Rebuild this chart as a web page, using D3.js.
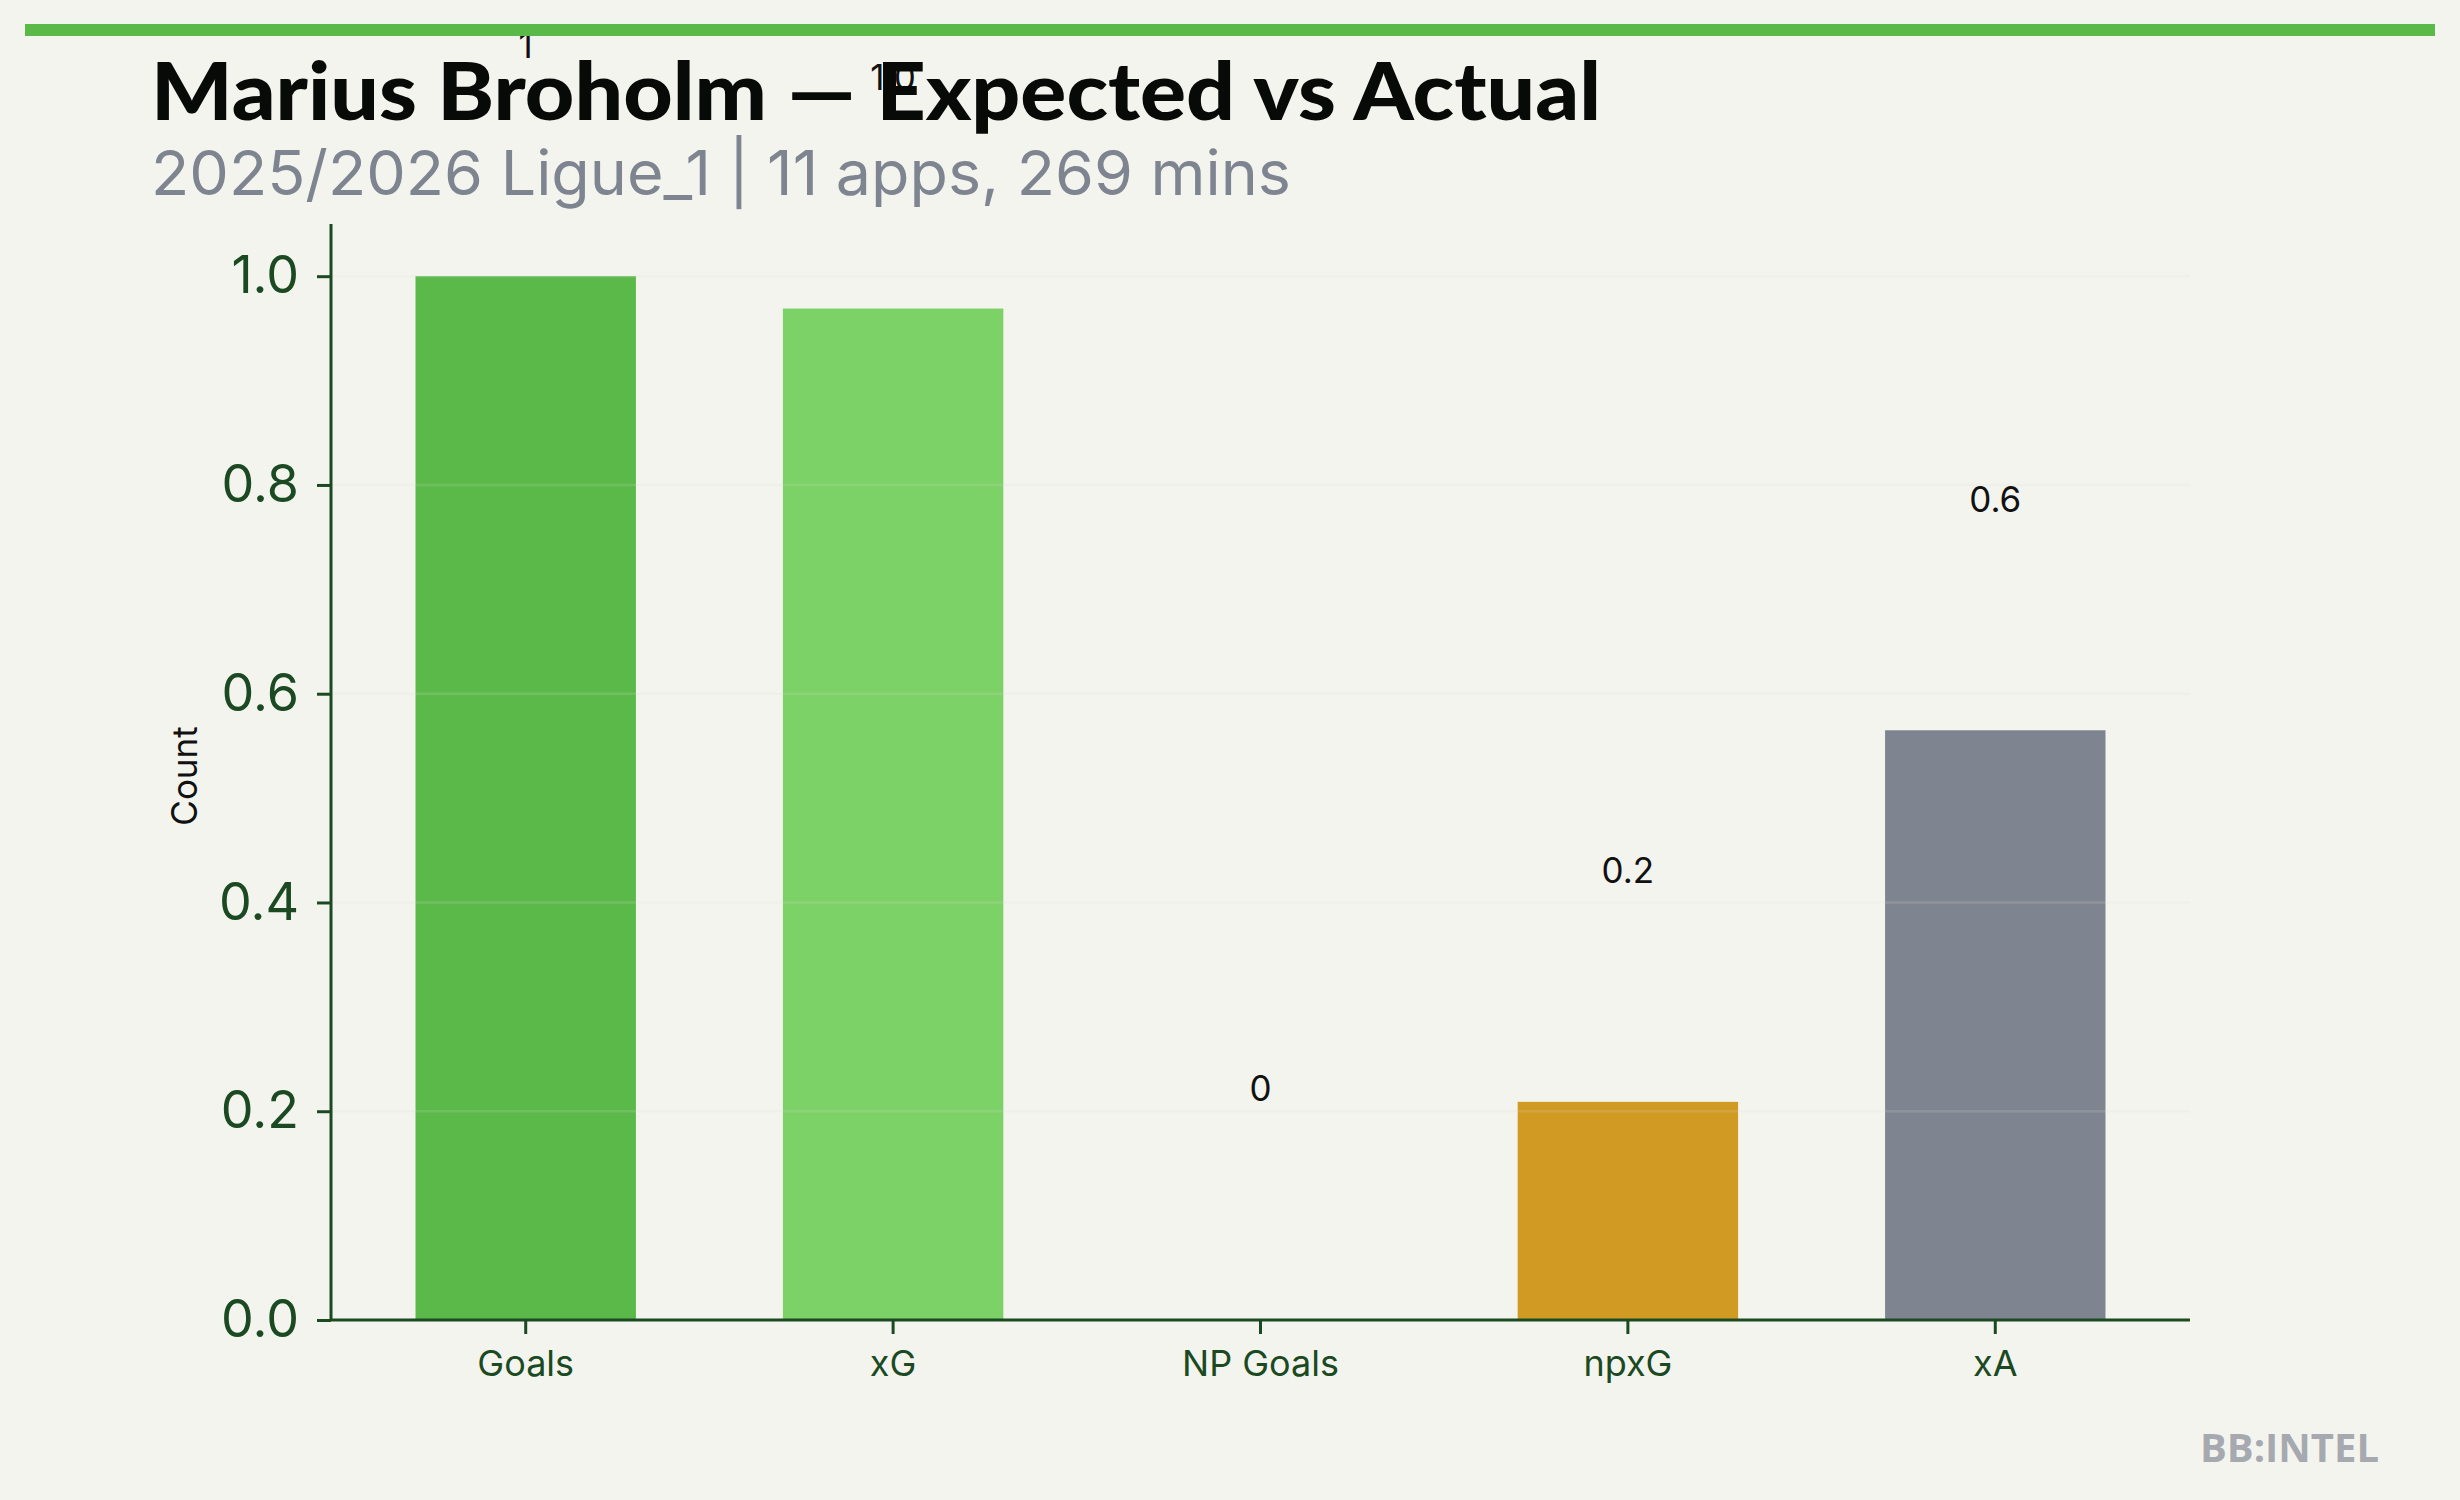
<!DOCTYPE html>
<html>
<head>
<meta charset="utf-8">
<script src="https://cdn.jsdelivr.net/npm/d3@7"></script>
<style>
  html, body { margin: 0; padding: 0; background: #f4f4ef; }
  svg { display: block; }
</style>
</head>
<body>
<script>
const categories = ["Goals", "xG", "NP Goals", "npxG", "xA"];
const values = [1, 0.969, 0, 0.209, 0.565];
const barColors = ["#5bb94a", "#7cd167", "#5bb94a", "#d19a23", "#7f8590"];
const yTicks = [0, 0.2, 0.4, 0.6, 0.8, 1.0];
const titleText = "Marius Broholm \u2014 Expected vs Actual";
const subtitleText = "2025/2026 Ligue_1 | 11 apps, 269 mins";
const yLabel = "Count";
const watermark = "BB:INTEL";

const W = 2460, H = 1500;
const plot = { left: 331, right: 2190, top: 224, bottom: 1320 };
const labelOffset = 0.2215;

const svg = d3.select("body").append("svg").attr("width", W).attr("height", H);
svg.append("rect").attr("width", W).attr("height", H).attr("fill", "#f4f4ef");

const x = d3.scaleBand().domain(categories).range([plot.left, plot.right])
  .paddingInner(0.4).paddingOuter(0.23);
const y = d3.scaleLinear().domain([0, 1.05]).range([plot.bottom, plot.top]);

const fmt = v => Number.isInteger(v) ? String(v) : v.toFixed(1);

// value labels (drawn underneath title)
svg.append("g").selectAll("text").data(categories).join("text")
  .attr("x", d => x(d) + x.bandwidth() / 2)
  .attr("y", (d, i) => y(values[i] + labelOffset))
  .attr("dy", "0.36em")
  .attr("text-anchor", "middle")
  .attr("font-family", "Inter, 'Noto Sans', sans-serif")
  .attr("font-size", 35)
  .attr("fill", "#111111")
  .text((d, i) => fmt(values[i]));

// bars
svg.append("g").selectAll("rect").data(categories).join("rect")
  .attr("x", d => x(d))
  .attr("width", x.bandwidth())
  .attr("y", (d, i) => y(values[i]))
  .attr("height", (d, i) => y(0) - y(values[i]))
  .attr("fill", (d, i) => barColors[i]);

// gridlines over bars
svg.append("g").selectAll("line").data(yTicks.filter(t => t > 0)).join("line")
  .attr("x1", plot.left).attr("x2", plot.right)
  .attr("y1", d => y(d)).attr("y2", d => y(d))
  .attr("stroke", "#e2e2da").attr("stroke-opacity", 0.16).attr("stroke-width", 2.5);

// axes
const axisColor = "#1b4a22";
const yAxis = svg.append("g").attr("transform", `translate(${plot.left},0)`)
  .call(d3.axisLeft(y).tickValues(yTicks).tickFormat(d3.format(".1f")).tickSize(14).tickPadding(18));
yAxis.select(".domain").attr("stroke", axisColor).attr("stroke-width", 3)
  .attr("d", `M0,${plot.top}V${plot.bottom}`);
yAxis.selectAll(".tick line").attr("stroke", axisColor).attr("stroke-width", 3);
yAxis.selectAll(".tick text").attr("fill", axisColor)
  .attr("font-family", "Inter, 'Noto Sans', sans-serif").attr("font-size", 52);

const xAxis = svg.append("g").attr("transform", `translate(0,${plot.bottom})`)
  .call(d3.axisBottom(x).tickSize(14).tickPadding(16).tickSizeOuter(0));
xAxis.select(".domain").attr("stroke", axisColor).attr("stroke-width", 3)
  .attr("d", `M${plot.left},0H${plot.right}`);
xAxis.selectAll(".tick line").attr("stroke", axisColor).attr("stroke-width", 3);
xAxis.selectAll(".tick text").attr("fill", axisColor)
  .attr("font-family", "Inter, 'Noto Sans', sans-serif").attr("font-size", 36);

// y label
svg.append("text")
  .attr("transform", `translate(197,776) rotate(-90)`)
  .attr("text-anchor", "middle")
  .attr("font-family", "Inter, 'Noto Sans', sans-serif")
  .attr("font-size", 35)
  .attr("fill", "#111111")
  .text(yLabel);

// top green bar
svg.append("rect").attr("x", 25).attr("y", 24).attr("width", 2410).attr("height", 12).attr("fill", "#5bb94a");

// title
svg.append("text")
  .attr("x", 151).attr("y", 120)
  .attr("font-family", "Lato, 'Open Sans', sans-serif")
  .attr("font-weight", 900)
  .attr("font-size", 80)
  .attr("fill", "#080a08")
  .attr("textLength", 1450).attr("lengthAdjust", "spacingAndGlyphs")
  .text(titleText);

// subtitle
svg.append("text")
  .attr("x", 151).attr("y", 195)
  .attr("font-family", "Inter, 'Noto Sans', sans-serif")
  .attr("font-size", 62)
  .attr("fill", "#7f8590")
  .attr("textLength", 1140).attr("lengthAdjust", "spacingAndGlyphs")
  .text(subtitleText);

// watermark
svg.append("text")
  .attr("x", 2379).attr("y", 1462)
  .attr("text-anchor", "end")
  .attr("font-family", "'Open Sans', 'Noto Sans', sans-serif")
  .attr("font-weight", 700)
  .attr("font-size", 40)
  .attr("fill", "#a6aab0")
  .text(watermark);
</script>
</body>
</html>
